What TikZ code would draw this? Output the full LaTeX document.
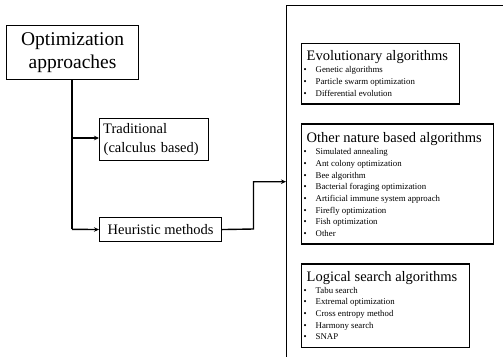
\documentclass[tikz,border=0pt]{standalone}
\usepackage{fontspec}
\setmainfont{Liberation Serif}
\usetikzlibrary{arrows.meta}
\tikzset{
  x=1pt, y=-1pt,
  frame/.style={draw, line width=1.4pt, inner sep=0pt, anchor=north west},
  conn/.style={line width=1.4pt},
  arr/.style={conn, -{Stealth[length=5pt,width=4.5pt]}},
  content/.style={inner sep=0pt, anchor=base west},
}
\newcommand{\cattitle}[1]{{\fontsize{14.5}{16}\selectfont #1\par}\vspace{0.6pt}}
\newcommand{\catitem}[1]{\makebox[12pt][l]{\textbullet}#1\par}
\newcommand{\catlist}{\fontsize{8.8}{11.65}\selectfont}
\begin{document}
\begin{tikzpicture}
\useasboundingbox (0,0) rectangle (503,356);
\begin{scope}
\clip (0,0) rectangle (503,356);
\node[frame, minimum width=240pt, minimum height=370pt] (outer) at (286,4.5) {};
\end{scope}
\node[frame, minimum width=132.3pt, minimum height=54pt, align=center,
      font=\fontsize{19.5}{23.5}\selectfont] (opt) at (5.7,25)
      {Optimization\\approaches};
\node[frame, minimum width=109pt, minimum height=42pt, align=left,
      font=\fontsize{14.5}{19}\selectfont, text width=101pt] (trad) at (99,118)
      {\hspace*{-0.5pt}Traditional\\(calculus based)};
\node[frame, minimum width=121.7pt, minimum height=24.3pt,
      font=\fontsize{14.5}{17}\selectfont] (heur) at (99,216.7)
      {Heuristic methods};
\node[frame, minimum width=158.3pt, minimum height=60.6pt] (evo) at (300.7,42.7) {};
\node[frame, minimum width=192pt, minimum height=120pt] (nat) at (300.7,123.3) {};
\node[frame, minimum width=168.3pt, minimum height=83.4pt] (logi) at (300.7,263.3) {};
\node[content] (evot) at (303.5,60.5) {\parbox[t]{150pt}{%
  \cattitle{\hspace*{3pt}Evolutionary algorithms}
  \catlist
  \catitem{Genetic algorithms}
  \catitem{Particle swarm optimization}
  \catitem{Differential evolution}}};
\node[content] (natt) at (303.5,142.7) {\parbox[t]{185pt}{%
  \cattitle{\hspace*{3pt}Other nature based algorithms}
  \catlist
  \catitem{Simulated annealing}
  \catitem{Ant colony optimization}
  \catitem{Bee algorithm}
  \catitem{Bacterial foraging optimization}
  \catitem{Artificial immune system approach}
  \catitem{Firefly optimization}
  \catitem{Fish optimization}
  \catitem{Other}}};
\node[content] (logt) at (303.5,281) {\parbox[t]{160pt}{%
  \cattitle{\hspace*{3pt}Logical search algorithms}
  \catlist
  \catitem{Tabu search}
  \catitem{Extremal optimization}
  \catitem{Cross entropy method}
  \catitem{Harmony search}
  \catitem{SNAP}}};
\coordinate (entry) at (286,181.7);
\draw[conn] (opt.south -| 72,0) -- (72,229.3);
\draw[arr] (72,138) -- (trad.west |- 72,138);
\draw[arr] (72,229.3) -- (heur.west);
\draw[arr] (heur.east) -- (253.5,229) -- (253.5,181.7) -- (entry);
\end{tikzpicture}
\end{document}
